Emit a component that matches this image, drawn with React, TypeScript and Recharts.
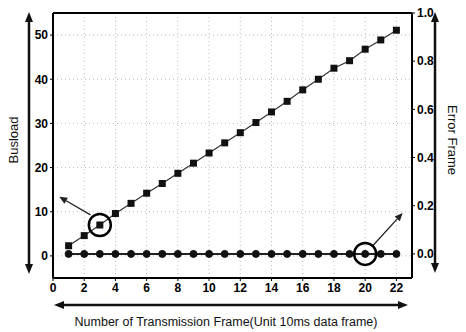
import React from 'react'
import { ComposedChart, Line, XAxis, YAxis, CartesianGrid, ReferenceDot, ReferenceLine } from 'recharts'

// x values (transmission frame number)
const frames = [1, 2, 3, 4, 5, 6, 7, 8, 9, 10, 11, 12, 13, 14, 15, 16, 17, 18, 19, 20, 21, 22]
// bus load, left axis
const busload = [2.3, 4.6, 7.0, 9.6, 11.9, 14.2, 16.4, 18.7, 21.0, 23.3, 25.6, 27.9, 30.2, 32.6, 35.0, 37.6, 40.0, 42.5, 44.2, 46.8, 48.9, 51.1]
// error frame, right axis
const errorFrame = [0, 0, 0, 0, 0, 0, 0, 0, 0, 0, 0, 0, 0, 0, 0, 0, 0, 0, 0, 0, 0, 0]

const xTicks = [0, 2, 4, 6, 8, 10, 12, 14, 16, 18, 20, 22]
const leftTicks = [0, 10, 20, 30, 40, 50]
const rightTicks = [0, 0.2, 0.4, 0.6, 0.8, 1.0]

// annotation arrows (data coords)
const busArrow = [{ x: 2.4, y: 9.3 }, { x: 0.4, y: 13.4 }]
const errArrow = [{ x: 20.5, y: 0.035 }, { x: 22.4, y: 0.17 }]

const data = frames.map((f, i) => ({ frame: f, busload: busload[i], errorFrame: errorFrame[i] }))

const font = '"Liberation Sans", Arial, sans-serif'
const tickStyle = { fill: '#000', fontSize: 12, fontWeight: 'bold', fontFamily: font }

const ArrowShape = (props: any) => {
  const { x1, y1, x2, y2 } = props
  const a = Math.atan2(y2 - y1, x2 - x1)
  const len = 8, w = 3.5
  const bx = x2 - len * Math.cos(a), by = y2 - len * Math.sin(a)
  const pts = `${x2},${y2} ${bx + w * Math.sin(a)},${by - w * Math.cos(a)} ${bx - w * Math.sin(a)},${by + w * Math.cos(a)}`
  return (
    <g>
      <line x1={x1} y1={y1} x2={bx} y2={by} stroke="#222" strokeWidth={1.3} />
      <polygon points={pts} fill="#222" />
    </g>
  )
}

const SquareDot = (p: any) => (
  <rect key={'s' + p.index} x={p.cx - 3.5} y={p.cy - 3.5} width={7} height={7} fill="#111" />
)

const App = () => {
  return (
    <div style={{ position: 'absolute', left: 0, top: 0, width: 466, height: 332, background: '#fff' }}>
      <ComposedChart width={466} height={332} data={data} margin={{ top: 13, right: 0, bottom: 0, left: 0 }}>
        <CartesianGrid yAxisId="left" stroke="#bbb" strokeDasharray="1 3" />
        <XAxis dataKey="frame" type="number" domain={[0, 23]} ticks={xTicks} height={54}
          tick={tickStyle} tickSize={3} axisLine={{ stroke: '#000', strokeWidth: 2 }} tickLine={{ stroke: '#000' }} />
        <YAxis yAxisId="left" width={53} domain={[-5, 55]} ticks={leftTicks} tick={tickStyle} tickSize={3}
          axisLine={{ stroke: '#000', strokeWidth: 2 }} tickLine={{ stroke: '#000' }} />
        <YAxis yAxisId="right" orientation="right" width={54} domain={[-0.1, 1.0]} ticks={rightTicks}
          tickFormatter={(v: number) => v.toFixed(1)} tick={tickStyle} tickSize={3}
          axisLine={{ stroke: '#000', strokeWidth: 2 }} tickLine={{ stroke: '#000' }} />
        <ReferenceLine yAxisId="left" y={55} stroke="#000" strokeWidth={2} />
        <Line yAxisId="left" dataKey="busload" stroke="#333" strokeWidth={1.2} dot={SquareDot} isAnimationActive={false} />
        <Line yAxisId="right" dataKey="errorFrame" stroke="#222" strokeWidth={2}
          dot={{ r: 3.5, fill: '#111', stroke: '#111', strokeWidth: 1 }} isAnimationActive={false} />
        <ReferenceDot yAxisId="left" x={3} y={busload[2]} r={11} fill="none" stroke="#000" strokeWidth={2.5} />
        <ReferenceDot yAxisId="right" x={20} y={errorFrame[19]} r={11} fill="none" stroke="#000" strokeWidth={2.5} />
        <ReferenceLine yAxisId="left" segment={busArrow} shape={ArrowShape} />
        <ReferenceLine yAxisId="right" segment={errArrow} shape={ArrowShape} />
      </ComposedChart>
      <svg width={466} height={332} style={{ position: 'absolute', left: 0, top: 0, pointerEvents: 'none' }}>
        {/* left double arrow */}
        <line x1={29} y1={20} x2={29} y2={266} stroke="#111" strokeWidth={2.5} />
        <polygon points="29,12 25,22 33,22" fill="#111" />
        <polygon points="29,274 25,264 33,264" fill="#111" />
        {/* right double arrow */}
        <line x1={435} y1={20} x2={435} y2={265} stroke="#111" strokeWidth={2.5} />
        <polygon points="435,12 431,22 439,22" fill="#111" />
        <polygon points="435,273 431,263 439,263" fill="#111" />
        {/* bottom double arrow */}
        <line x1={62} y1={305} x2={400} y2={305} stroke="#111" strokeWidth={2.5} />
        <polygon points="54,305 64,301 64,309" fill="#111" />
        <polygon points="408,305 398,301 398,309" fill="#111" />
        <text x={13} y={140} transform="rotate(-90 13 140)" textAnchor="middle" dominantBaseline="central"
          fontSize={13} fontFamily={font} fill="#111">Busload</text>
        <text x={452} y={140} transform="rotate(90 452 140)" textAnchor="middle" dominantBaseline="central"
          fontSize={13} fontFamily={font} fill="#111">Error Frame</text>
        <text x={226} y={322} textAnchor="middle" dominantBaseline="central"
          fontSize={12.5} fontFamily={font} fill="#111">Number of Transmission Frame(Unit 10ms data frame)</text>
      </svg>
    </div>
  )
}

export default App
